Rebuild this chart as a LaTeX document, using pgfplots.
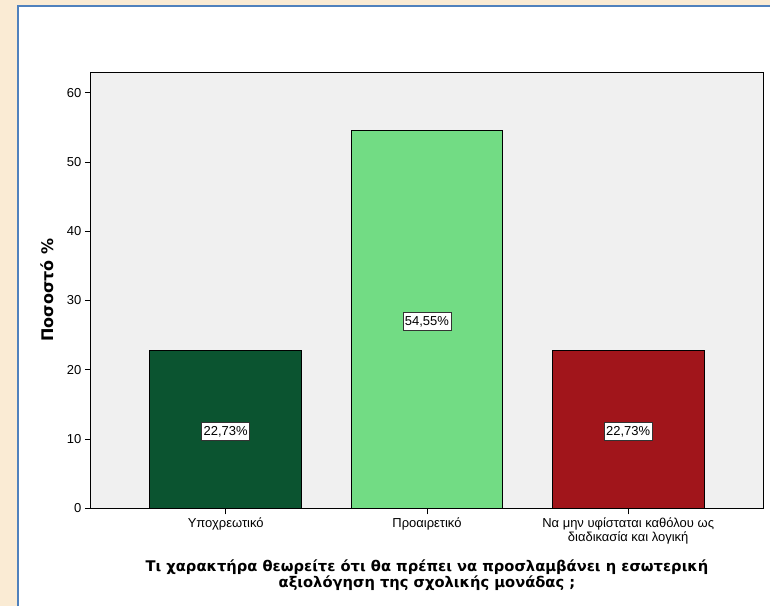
\documentclass[border=0pt]{standalone}
\usepackage{fontspec}
\setmainfont{Liberation Sans}
\newfontfamily\djv{DejaVu Sans}
\usepackage{pgfplots}
\pgfplotsset{compat=1.18}
\definecolor{parch}{HTML}{FAEBD4}
\definecolor{frameblue}{HTML}{4F81BD}
\definecolor{plotbg}{HTML}{F0F0F0}
\definecolor{cA}{HTML}{0B5430}
\definecolor{cB}{HTML}{72DC84}
\definecolor{cC}{HTML}{A1151B}
\begin{document}
\begin{tikzpicture}[x=1pt,y=1pt]
\fill[parch] (0,0) rectangle (771,607);
\fill[white] (18,0) rectangle (771,601);
\draw[frameblue, line width=2pt] (18,0) -- (18,601) -- (771,601);
\begin{axis}[
  at={(91pt,98pt)}, anchor=south west,
  scale only axis, width=673pt, height=437pt,
  ybar, bar width=152pt,
  xmin=-0.67, xmax=2.67, ymin=0, ymax=63,
  axis background/.style={fill=plotbg},
  axis line style={black, line width=0.8pt},
  xtick={0,1,2},
  xticklabels={{Υποχρεωτικό},{Προαιρετικό},{Να μην υφίσταται καθόλου ως\\διαδικασία και λογική}},
  xticklabel style={align=center, font=\fontsize{13}{14}\selectfont},
  ytick={0,10,20,30,40,50,60},
  yticklabel style={font=\fontsize{13}{14}\selectfont},
  /pgf/number format/assume math mode=true,
  tick align=outside, tick pos=left, major tick length=6pt,
  tick style={black, line width=0.8pt},
  xlabel={Τι χαρακτήρα θεωρείτε ότι θα πρέπει να προσλαμβάνει η εσωτερική\\αξιολόγηση της σχολικής μονάδας ;},
  xlabel style={at={(axis description cs:0.5,0)}, anchor=north, yshift=-48pt, align=center, font=\djv\bfseries\fontsize{14.7}{15.7}\selectfont},
  ylabel={Ποσοστό \%},
  ylabel style={at={(axis description cs:-0.065,0.5)}, anchor=center, font=\djv\bfseries\fontsize{16}{17}\selectfont},
]
\addplot[bar shift=0pt, fill=cA, draw=black, line width=0.8pt] coordinates {(0,22.73)};
\addplot[bar shift=0pt, fill=cB, draw=black, line width=0.8pt] coordinates {(1,54.55)};
\addplot[bar shift=0pt, fill=cC, draw=black, line width=0.8pt] coordinates {(2,22.73)};
\addplot[bar shift=0pt, draw=none, fill=none, forget plot,
  nodes near coords, point meta=explicit symbolic,
  every node near coord/.append style={anchor=center, yshift=-2pt, draw=black!80, fill=white, inner xsep=2pt, inner ysep=3.5pt, line width=0.8pt, font=\fontsize{13}{13}\selectfont}]
  coordinates {(0,11.365) [22,73\%] (1,27.275) [54,55\%] (2,11.365) [22,73\%]};
\end{axis}
\end{tikzpicture}
\end{document}
